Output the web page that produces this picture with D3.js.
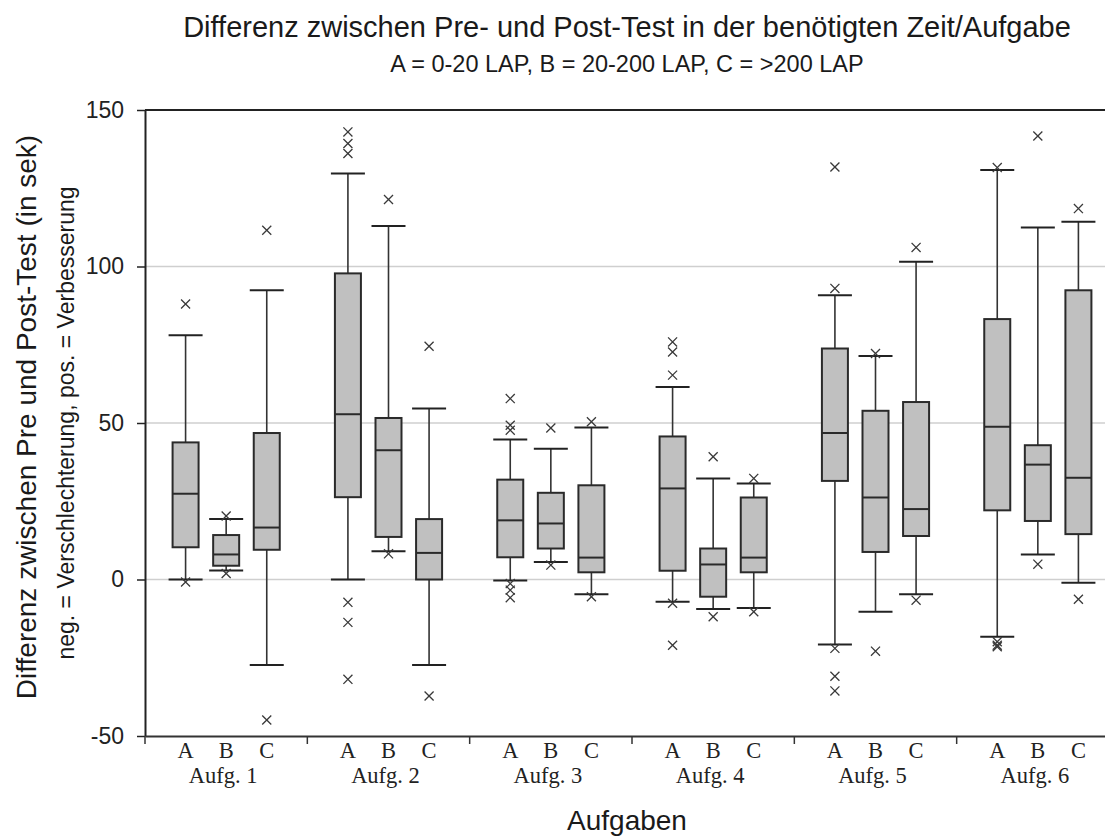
<!DOCTYPE html>
<html>
<head>
<meta charset="utf-8">
<script src="https://cdn.jsdelivr.net/npm/d3@7"></script>
<style>
  body { margin: 0; background: #fff; }
  svg { display: block; }
  .sans { font-family: "Liberation Sans", Arial, sans-serif; }
  .serif { font-family: "Liberation Serif", "Times New Roman", serif; }
</style>
</head>
<body>
<div id="chart"></div>
<script>
// Values, one entry per group, each with [A, B, C]
const groups = ['Aufg. 1', 'Aufg. 2', 'Aufg. 3', 'Aufg. 4', 'Aufg. 5', 'Aufg. 6'];
const cats = ['A', 'B', 'C'];
const yTicks = [-50, 0, 50, 100, 150];

const whiskerLow = [
  [0, 2.9, -27.3], [0, 9, -27.3], [-0.3, 5.6, -4.7],
  [-7.1, -9.4, -9.1], [-20.8, -10.3, -4.7], [-18.3, 8, -1],
];
const q1 = [
  [10.3, 4.4, 9.5], [26.3, 13.6, 0], [7.1, 9.9, 2.3],
  [2.8, -5.5, 2.3], [31.5, 8.8, 13.9], [22.1, 18.7, 14.5],
];
const median = [
  [27.4, 8, 16.6], [52.8, 41.3, 8.5], [18.9, 17.9, 7],
  [29.1, 4.8, 7], [46.8, 26.2, 22.5], [48.8, 36.7, 32.5],
];
const q3 = [
  [43.8, 14.2, 46.8], [97.8, 51.6, 19.3], [31.9, 27.7, 30.1],
  [45.7, 9.9, 26.2], [73.8, 53.9, 56.7], [83.2, 42.9, 92.4],
];
const whiskerHigh = [
  [78, 19.3, 92.4], [129.7, 112.9, 54.6], [44.7, 41.8, 48.6],
  [61.5, 32.3, 30.7], [90.8, 71.4, 101.5], [130.8, 112.5, 114.3],
];
const outliers = [
  [[88, -0.8], [20.3, 1.9], [111.6, -44.9]],
  [[143, 139.3, 136.1, -7.3, -13.7, -31.9], [121.4, 8.2], [74.5, -37.2]],
  [[57.8, 49.3, 47.7, -1.3, -3.4, -5.8], [48.4, 4.6], [50.4, -5.5]],
  [[75.9, 72.7, 65.3, -7.6, -21], [39.2, -11.9], [32.3, -10.3]],
  [[131.8, 93, -22, -30.9, -35.6], [72.2, -22.9], [106.1, -6.6]],
  [[131.6, -19.9, -21.5, -21], [141.7, 4.9], [118.5, -6.3]],
];

const W = 1105;
const H = 836;
const plot = { left: 145, right: 1119, top: 110, bottom: 736 };

const svg = d3.select('#chart').append('svg')
  .attr('width', W)
  .attr('height', H);

const x = d3.scaleBand().domain(groups).range([plot.left, plot.right]).padding(0);
const xSub = d3.scalePoint().domain(cats).range([0, x.bandwidth()]).padding(1);
const y = d3.scaleLinear().domain([-50, 150]).range([plot.bottom, plot.top]);

// flatten into one record per box
const boxes = [];
groups.forEach((g, gi) => {
  cats.forEach((c, ci) => {
    boxes.push({
      group: g, cat: c,
      lo: whiskerLow[gi][ci], q1: q1[gi][ci], med: median[gi][ci],
      q3: q3[gi][ci], hi: whiskerHigh[gi][ci], out: outliers[gi][ci],
      cx: x(g) + xSub(c),
    });
  });
});

// grid lines
svg.append('g')
  .selectAll('line')
  .data([0, 50, 100])
  .enter().append('line')
    .attr('x1', plot.left).attr('x2', plot.right)
    .attr('y1', d => y(d)).attr('y2', d => y(d))
    .attr('stroke', '#cfcfcf')
    .attr('stroke-width', 1.5);

// top frame line
svg.append('line')
  .attr('x1', plot.left).attr('x2', plot.right)
  .attr('y1', y(150)).attr('y2', y(150))
  .attr('stroke', '#222')
  .attr('stroke-width', 2);

// y axis (plain hyphen for negatives, like the original)
const yAxis = svg.append('g')
  .attr('transform', `translate(${plot.left},0)`)
  .call(d3.axisLeft(y).tickValues(yTicks).tickFormat(d => `${d}`)
    .tickSize(8).tickPadding(13).tickSizeOuter(0));
yAxis.select('.domain').attr('stroke', '#222').attr('stroke-width', 2);
yAxis.selectAll('.tick line').attr('stroke', '#222').attr('stroke-width', 1.5);
yAxis.selectAll('.tick text')
  .attr('class', 'sans')
  .style('font-size', '23px')
  .attr('fill', '#222');

// x axis line and group boundary ticks
const xAxis = svg.append('g')
  .attr('transform', `translate(0,${plot.bottom})`)
  .call(d3.axisBottom(x).tickSize(0).tickFormat(''));
xAxis.select('.domain').attr('stroke', '#333').attr('stroke-width', 2);
svg.append('g')
  .selectAll('line')
  .data(groups)
  .enter().append('line')
    .attr('x1', d => x(d)).attr('x2', d => x(d))
    .attr('y1', plot.bottom).attr('y2', plot.bottom + 8)
    .attr('stroke', '#333')
    .attr('stroke-width', 1.5);

// category letters and group labels
svg.append('g')
  .selectAll('text')
  .data(boxes)
  .enter().append('text')
    .attr('class', 'serif')
    .attr('x', d => d.cx)
    .attr('y', 758)
    .attr('text-anchor', 'middle')
    .style('font-size', '22.5px')
    .attr('fill', '#222')
    .text(d => d.cat);

svg.append('g')
  .selectAll('text')
  .data(groups)
  .enter().append('text')
    .attr('class', 'serif')
    .attr('x', d => x(d) + x.bandwidth() / 2 - 3)
    .attr('y', 783)
    .attr('text-anchor', 'middle')
    .style('font-size', '22.5px')
    .attr('fill', '#222')
    .text(d => d);

// boxes
const boxW = 26;
const capW = 34;
const bx = svg.append('g').selectAll('g')
  .data(boxes)
  .enter().append('g');

bx.append('line')
  .attr('x1', d => d.cx).attr('x2', d => d.cx)
  .attr('y1', d => y(d.hi)).attr('y2', d => y(d.lo))
  .attr('stroke', '#333')
  .attr('stroke-width', 1.6);

bx.selectAll('.cap')
  .data(d => [d.lo, d.hi].map(v => ({ cx: d.cx, v })))
  .enter().append('line')
    .attr('class', 'cap')
    .attr('x1', d => d.cx - capW / 2).attr('x2', d => d.cx + capW / 2)
    .attr('y1', d => y(d.v)).attr('y2', d => y(d.v))
    .attr('stroke', '#222')
    .attr('stroke-width', 2);

bx.append('rect')
  .attr('x', d => d.cx - boxW / 2)
  .attr('y', d => y(d.q3))
  .attr('width', boxW)
  .attr('height', d => y(d.q1) - y(d.q3))
  .attr('fill', '#c0c0c0')
  .attr('stroke', '#2a2a2a')
  .attr('stroke-width', 2);

bx.append('line')
  .attr('x1', d => d.cx - boxW / 2).attr('x2', d => d.cx + boxW / 2)
  .attr('y1', d => y(d.med)).attr('y2', d => y(d.med))
  .attr('stroke', '#2a2a2a')
  .attr('stroke-width', 2);

// outliers as small crosses
const cross = d3.symbol().type(d3.symbolTimes).size(55);
bx.selectAll('.out')
  .data(d => d.out.map(v => ({ cx: d.cx, v })))
  .enter().append('path')
    .attr('class', 'out')
    .attr('d', cross)
    .attr('transform', d => `translate(${d.cx},${y(d.v)})`)
    .attr('fill', 'none')
    .attr('stroke', '#3a3a3a')
    .attr('stroke-width', 1.3);

// titles
svg.append('text')
  .attr('class', 'sans')
  .attr('x', 627).attr('y', 37)
  .attr('text-anchor', 'middle')
  .style('font-size', '29px')
  .attr('fill', '#1a1a1a')
  .text('Differenz zwischen Pre- und Post-Test in der benötigten Zeit/Aufgabe');

svg.append('text')
  .attr('class', 'sans')
  .attr('x', 627).attr('y', 72)
  .attr('text-anchor', 'middle')
  .style('font-size', '23.5px')
  .attr('fill', '#1a1a1a')
  .text('A = 0-20 LAP, B = 20-200 LAP, C = >200 LAP');

svg.append('text')
  .attr('class', 'sans')
  .attr('transform', 'translate(36,417) rotate(-90)')
  .attr('text-anchor', 'middle')
  .style('font-size', '28px')
  .attr('fill', '#1a1a1a')
  .text('Differenz zwischen Pre und Post-Test (in sek)');

svg.append('text')
  .attr('class', 'sans')
  .attr('transform', 'translate(74,423) rotate(-90)')
  .attr('text-anchor', 'middle')
  .style('font-size', '23px')
  .attr('fill', '#1a1a1a')
  .text('neg. = Verschlechterung, pos. = Verbesserung');

svg.append('text')
  .attr('class', 'sans')
  .attr('x', 627).attr('y', 830)
  .attr('text-anchor', 'middle')
  .style('font-size', '28px')
  .attr('fill', '#1a1a1a')
  .text('Aufgaben');
</script>
</body>
</html>
